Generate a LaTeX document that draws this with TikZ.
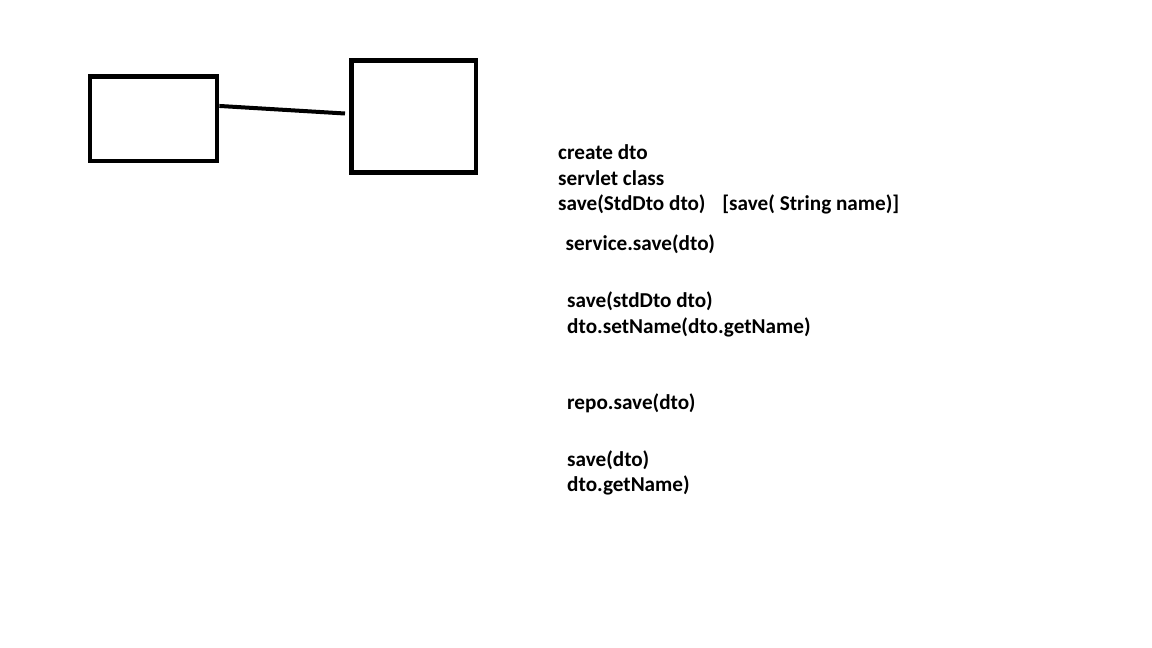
\documentclass[tikz,border=0pt]{standalone}
\usepackage{fontspec}
\setmainfont{Carlito}
\usetikzlibrary{positioning,calc}
\tikzset{
  box/.style={draw, line width=4.7pt, minimum width=#1, inner sep=0pt},
  conn/.style={draw, line width=4pt},
  txt/.style={anchor=base west, inner sep=0pt, font=\fontsize{21.2}{25}\selectfont\bfseries}
}

\begin{document}
\begin{tikzpicture}[x=1pt, y=-1pt]
        \useasboundingbox (0,0) rectangle (1152,648);
        %boxes
        \node[box=127pt, minimum height=84.5pt] (servlet) at (153.5, 118.75) {};
        \node[box=124.3pt, minimum height=112pt] (service) at (413.85, 116.7) {};
        \coordinate (lineend) at (345, 113.5);
        %texts
        \node[txt] (t1) at (558, 159) {create dto};
        \node[txt] (t2) at (558, 185) {servlet class};
        \node[txt] (t3) at (558, 210) {save(StdDto dto)\hspace{0.8em}[save( String name)]};
        \node[txt] (t4) at (565.5, 250) {service.save(dto)};
        \node[txt] (t5) at (567, 307) {save(stdDto dto)};
        \node[txt] (t6) at (567, 333) {dto.setName(dto.getName)};
        \node[txt] (t7) at (567, 409) {repo.save(dto)};
        \node[txt] (t8) at (567, 466) {save(dto)};
        \node[txt] (t9) at (567, 491) {dto.getName)};
        %edges
        \path [conn] (servlet.11) -- (lineend);
\end{tikzpicture}
\end{document}
